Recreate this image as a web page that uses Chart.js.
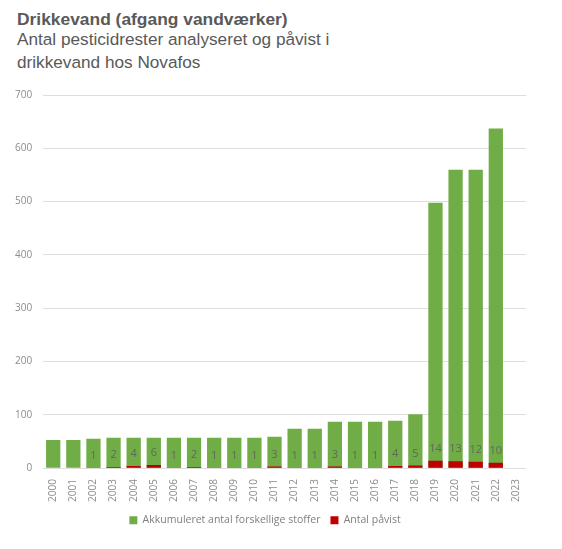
<!DOCTYPE html>
<html>
<head>
<meta charset="utf-8">
<script src="https://cdn.jsdelivr.net/npm/chart.js@4/dist/chart.umd.min.js"></script>
<style>
  body { margin: 0; background: #fff; }
  #wrap { position: relative; width: 562px; height: 549px; overflow: hidden; }
  #title { position: absolute; left: 17px; top: 9px; font: bold 17.4px "Liberation Sans", Arial, sans-serif; color: #595959; }
  #sub { position: absolute; left: 17px; top: 28px; font: 17.2px "Liberation Sans", Arial, sans-serif; line-height: 23px; color: #595959; }
  #box { position: absolute; left: 0; top: 78px; width: 562px; height: 471px; }
</style>
</head>
<body>
<div id="wrap">
  <div id="title">Drikkevand (afgang vandværker)</div>
  <div id="sub">Antal pesticidrester analyseret og påvist i<br>drikkevand hos Novafos</div>
  <div id="box"><canvas id="myChart"></canvas></div>
</div>
<script>
// aar paa x-aksen
const years = ['2000','2001','2002','2003','2004','2005','2006','2007','2008','2009','2010','2011',
  '2012','2013','2014','2015','2016','2017','2018','2019','2020','2021','2022','2023'];
// akkumuleret antal forskellige stoffer analyseret
const analyseret = [53, 53, 55, 57, 57, 57, 57, 57, 57, 57, 57, 59,
  74, 74, 87, 87, 87, 89, 101, 498, 560, 560, 637, null];
// antal stoffer paavist
const pavist = [null, null, 1, 2, 4, 6, 1, 2, 1, 1, 1, 3,
  1, 1, 3, 1, 1, 4, 5, 14, 13, 12, 10, null];
const yTicks = [0, 100, 200, 300, 400, 500, 600, 700];

// tal over de roede soejler
const pavistLabels = {
  id: 'pavistLabels',
  afterDatasetsDraw(chart) {
    const ctx = chart.ctx;
    const meta = chart.getDatasetMeta(1);
    ctx.save();
    ctx.font = '11px "Open Sans", sans-serif';
    ctx.fillStyle = '#5e6a57';
    ctx.textAlign = 'center';
    ctx.textBaseline = 'middle';
    meta.data.forEach((bar, i) => {
      if (pavist[i] == null) return;
      ctx.fillText(String(pavist[i]), bar.x, bar.y - 12);
    });
    ctx.restore();
  }
};

new Chart('myChart', {
  type: 'bar',
  data: {
    labels: years,
    datasets: [
      {
        label: 'Akkumuleret antal forskellige stoffer',
        data: analyseret,
        backgroundColor: '#70AD47',
        grouped: false,
        order: 1,
        categoryPercentage: 0.71,
        barPercentage: 1
      },
      {
        label: 'Antal påvist',
        data: pavist,
        backgroundColor: '#C00000',
        grouped: false,
        order: 0,
        categoryPercentage: 0.71,
        barPercentage: 1
      }
    ]
  },
  options: {
    responsive: true,
    maintainAspectRatio: false,
    animation: false,
    layout: { padding: { left: 4, right: 36, top: 5, bottom: 13.5 } },
    plugins: {
      tooltip: { enabled: false },
      legend: {
        position: 'bottom',
        labels: {
          boxWidth: 8,
          boxHeight: 8,
          padding: 10,
          color: '#7f7f7f',
          font: { size: 10.5, family: '"Open Sans", sans-serif' },
          sort: (a, b) => a.datasetIndex - b.datasetIndex
        }
      }
    },
    scales: {
      x: {
        grid: { display: false },
        border: { display: false },
        ticks: {
          minRotation: 90,
          maxRotation: 90,
          color: '#8c8c8c',
          font: { size: 10, family: '"Open Sans", sans-serif' }
        }
      },
      y: {
        min: 0,
        max: 700,
        afterBuildTicks: (axis) => { axis.ticks = yTicks.map(v => ({ value: v })); },
        grid: { color: '#dedede', drawTicks: false },
        border: { display: false },
        ticks: {
          color: '#8c8c8c',
          padding: 11,
          font: { size: 10, family: '"Open Sans", sans-serif' }
        }
      }
    }
  },
  plugins: [pavistLabels]
});
</script>
</body>
</html>
